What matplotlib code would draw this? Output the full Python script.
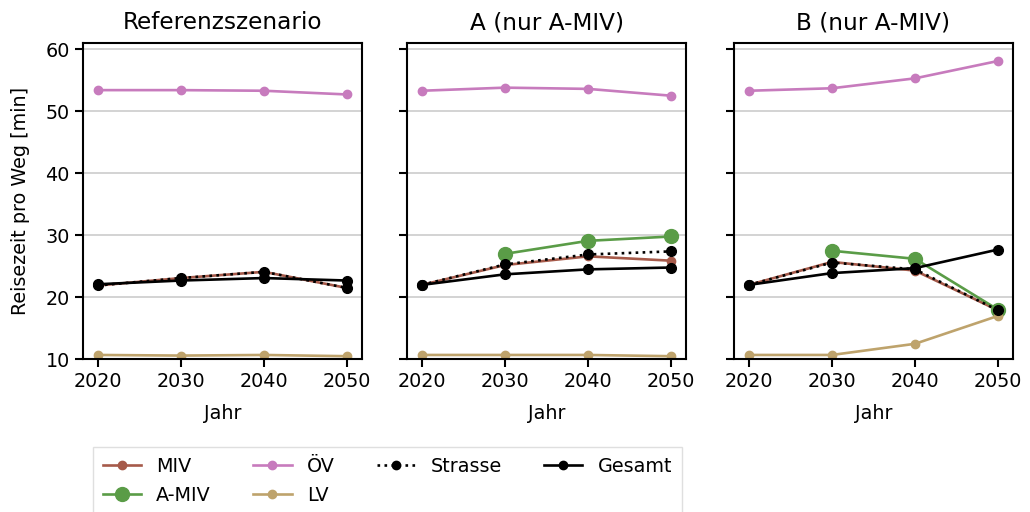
import matplotlib
matplotlib.use("Agg")
import matplotlib.pyplot as plt
from matplotlib.lines import Line2D

years = [2020, 2030, 2040, 2050]
titles = ["Referenzszenario", "A (nur A-MIV)", "B (nur A-MIV)"]

# Referenzszenario
ref_miv = [21.9, 23.1, 24.1, 21.5]
ref_oev = [53.4, 53.4, 53.3, 52.7]
ref_lv = [10.7, 10.6, 10.7, 10.5]
ref_strasse = [21.9, 23.1, 24.1, 21.5]
ref_gesamt = [22.1, 22.7, 23.1, 22.7]

# A (nur A-MIV)
a_miv = [22.0, 25.2, 26.6, 25.9]
a_amiv_years = [2030, 2040, 2050]
a_amiv = [27.0, 29.1, 29.8]
a_oev = [53.3, 53.8, 53.6, 52.5]
a_lv = [10.7, 10.7, 10.7, 10.5]
a_strasse = [22.0, 25.3, 26.9, 27.4]
a_gesamt = [22.0, 23.7, 24.5, 24.8]

# B (nur A-MIV)
b_miv = [22.0, 25.7, 24.3, 17.9]
b_amiv_years = [2030, 2040, 2050]
b_amiv = [27.5, 26.2, 18.0]
b_oev = [53.3, 53.7, 55.3, 58.1]
b_lv = [10.7, 10.7, 12.5, 17.0]
b_strasse = [22.0, 25.6, 24.5, 17.9]
b_gesamt = [22.0, 23.9, 24.7, 27.7]

c_miv = "#a65a4a"
c_amiv = "#5a9c47"
c_oev = "#c77bbd"
c_lv = "#bea36c"

fig = plt.figure(figsize=(10.3, 5.12), dpi=100)
W, H = 1030, 512
lefts = [83, 407, 734]
width = 279
top, bottom = 43.3, 359.3
axes = []
for i, l in enumerate(lefts):
    ax = fig.add_axes([l / W, 1 - bottom / H, width / W, (bottom - top) / H])
    axes.append(ax)

data = [
    (ref_miv, None, None, ref_oev, ref_lv, ref_strasse, ref_gesamt),
    (a_miv, a_amiv_years, a_amiv, a_oev, a_lv, a_strasse, a_gesamt),
    (b_miv, b_amiv_years, b_amiv, b_oev, b_lv, b_strasse, b_gesamt),
]

LW = 1.9
for i, (ax, d) in enumerate(zip(axes, data)):
    miv, ay, amiv, oev, lv, strasse, gesamt = d
    ax.plot(years, miv, color=c_miv, marker="o", ms=6, lw=LW)
    if ay is not None:
        ax.plot(ay, amiv, color=c_amiv, marker="o", ms=10, lw=LW)
    ax.plot(years, oev, color=c_oev, marker="o", ms=6, lw=LW)
    ax.plot(years, lv, color=c_lv, marker="o", ms=6, lw=LW)
    ax.plot(years, strasse, color="black", marker="o", ms=7, lw=LW, ls=":")
    ax.plot(years, gesamt, color="black", marker="o", ms=7, lw=LW)
    ax.set_xlim(2018.2, 2051.8)
    ax.set_ylim(10, 60.95)
    ax.set_xticks(years)
    ax.set_yticks([10, 20, 30, 40, 50, 60])
    ax.grid(axis="y", color="#c8c8c8", lw=1.1)
    ax.set_axisbelow(True)
    ax.tick_params(labelsize=13.8, width=1.5, length=6)
    for s in ax.spines.values():
        s.set_linewidth(1.5)
    ax.set_title(titles[i], fontsize=16.7, pad=10)
    ax.set_xlabel("Jahr", fontsize=13.8, labelpad=9)
    if i == 0:
        ax.set_ylabel("Reisezeit pro Weg [min]", fontsize=13.8, labelpad=11)
    else:
        ax.tick_params(labelleft=False)

handles = [
    Line2D([], [], color=c_miv, marker="o", ms=6, lw=LW),
    Line2D([], [], color=c_amiv, marker="o", ms=10, lw=LW),
    Line2D([], [], color=c_oev, marker="o", ms=6, lw=LW),
    Line2D([], [], color=c_lv, marker="o", ms=6, lw=LW),
    Line2D([], [], color="black", marker="o", ms=6, lw=LW, ls=":"),
    Line2D([], [], color="black", marker="o", ms=6, lw=LW),
]
labels = ["MIV", "A-MIV", "ÖV", "LV", "Strasse", "Gesamt"]
fig.legend(handles, labels, ncol=4, loc="upper left",
           bbox_to_anchor=(93 / W, 1 - 447 / H), fontsize=13.8,
           fancybox=False, edgecolor="#d8d8d8", borderpad=0.5,
           borderaxespad=0, columnspacing=2.2, handlelength=2.0,
           labelspacing=0.55)

fig.savefig("out.png", dpi=100)
